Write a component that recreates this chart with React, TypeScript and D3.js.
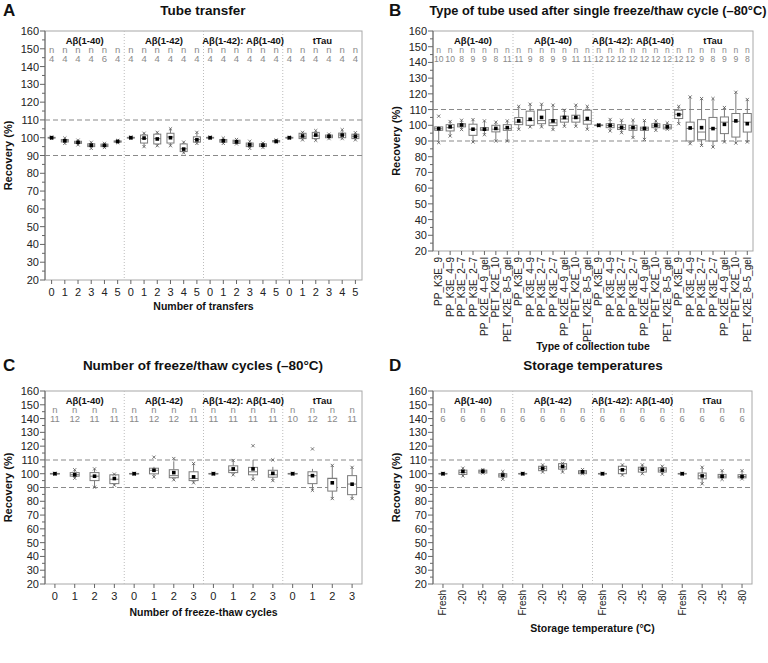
import React from 'react';
import * as d3 from 'd3';

// Each stats row: [min, whiskerLow, q1, median, q3, whiskerHigh, max, mean]
const groupNamesA = ['Aβ(1-40)', 'Aβ(1-42)', 'Aβ(1-42): Aβ(1-40)', 'tTau'];
const groupNamesB = ['Aβ(1-40)', 'Aβ(1-40)', 'Aβ(1-42): Aβ(1-40)', 'tTau'];

const transferCats = ['0', '1', '2', '3', '4', '5'];
const transferCounts = [4, 4, 4, 4, 6, 4, 4, 4, 4, 4, 4, 4, 4, 4, 4, 4, 4, 4, 4, 4, 4, 4, 4, 4];
const transferStats: number[][] = [
  [99.6, 99.6, 99.8, 100, 100.2, 100.4, 100.4, 100],
  [96.8, 96.8, 97.6, 98.3, 99.0, 99.8, 99.8, 98.3],
  [96.0, 96.0, 96.8, 97.4, 98.0, 98.6, 98.6, 97.4],
  [94.0, 94.0, 95.0, 95.8, 96.6, 97.4, 97.4, 95.8],
  [94.5, 94.5, 95.0, 95.7, 96.4, 96.8, 96.8, 95.7],
  [97.2, 97.2, 97.5, 97.8, 98.2, 98.5, 98.5, 97.9],
  [99.6, 99.6, 99.8, 100, 100.2, 100.4, 100.4, 100],
  [95.0, 95.0, 97.0, 99.5, 101.5, 102.5, 102.5, 99.8],
  [95.5, 95.5, 96.5, 99.5, 102.0, 103.0, 103.0, 99.3],
  [95.5, 95.5, 97.0, 100.4, 102.5, 105.0, 105.0, 100.0],
  [91.5, 91.5, 92.2, 93.8, 96.5, 97.5, 97.5, 93.6],
  [96.8, 96.8, 97.5, 99.0, 100.5, 103.0, 103.0, 98.8],
  [99.6, 99.6, 99.8, 100, 100.2, 100.4, 100.4, 100],
  [96.8, 96.8, 97.5, 98.3, 99.0, 99.8, 99.8, 98.3],
  [96.5, 96.5, 96.8, 97.7, 98.6, 99.0, 99.0, 97.7],
  [94.0, 94.0, 95.0, 96.0, 97.0, 98.0, 98.0, 96.0],
  [94.5, 94.5, 95.0, 95.8, 96.6, 97.0, 97.0, 95.8],
  [97.3, 97.3, 97.6, 98.0, 98.4, 98.7, 98.7, 98.0],
  [99.7, 99.7, 99.8, 100, 100.2, 100.3, 100.3, 100],
  [98.8, 98.8, 99.5, 100.5, 102.5, 103.0, 103.0, 101.0],
  [98.5, 98.5, 99.5, 101.0, 103.0, 104.0, 104.0, 101.5],
  [99.5, 99.5, 100.0, 100.8, 101.5, 102.0, 102.0, 100.8],
  [99.5, 99.5, 100.0, 101.5, 102.6, 104.5, 104.5, 101.5],
  [98.8, 98.8, 99.5, 100.8, 102.0, 102.8, 102.8, 100.8],
];

const tubeCats = ['PP_K3E_9', 'PP_K3E_4–9', 'PP_K3E_2–7', 'PP_K3E_2–7', 'PP_K2E_4–9_gel', 'PET_K2E_10', 'PET_K2E_8–5_gel'];
const tubeCounts = [10, 10, 8, 9, 9, 8, 11, 11, 9, 8, 9, 9, 11, 11, 12, 12, 12, 12, 12, 12, 12, 12, 12, 9, 8, 9, 9, 8];
const tubeStats: number[][] = [
  [89.0, 89.0, 96.8, 97.8, 99.0, 99.5, 105.8, 97.8],
  [93.2, 93.2, 96.4, 98.5, 100.4, 102.4, 102.4, 99.0],
  [97.3, 97.3, 99.0, 100.2, 101.0, 103.2, 103.2, 100.2],
  [89.4, 89.4, 93.6, 97.5, 100.7, 103.6, 103.6, 97.5],
  [94.0, 94.0, 96.8, 97.5, 98.5, 102.8, 102.8, 97.5],
  [90.0, 90.0, 95.8, 97.5, 100.0, 102.0, 102.0, 98.0],
  [90.0, 90.0, 96.8, 98.0, 100.4, 102.8, 102.8, 98.5],
  [97.5, 97.5, 100.4, 102.0, 104.9, 112.0, 112.0, 102.8],
  [99.0, 99.0, 100.0, 103.0, 109.0, 113.4, 113.4, 103.8],
  [99.0, 99.0, 101.0, 103.0, 109.6, 113.4, 113.4, 105.0],
  [97.3, 97.3, 99.8, 101.5, 103.6, 112.8, 112.8, 102.8],
  [99.4, 99.4, 102.0, 104.0, 105.8, 109.6, 109.6, 105.0],
  [99.4, 99.4, 102.0, 104.5, 106.4, 112.8, 112.8, 105.0],
  [97.5, 97.5, 100.7, 103.0, 109.6, 112.0, 112.0, 104.3],
  [99.7, 99.7, 99.8, 100, 100.2, 100.3, 100.3, 100],
  [96.4, 96.4, 98.5, 99.8, 101.0, 103.7, 103.7, 100.0],
  [95.3, 95.3, 97.3, 98.5, 100.4, 103.2, 103.2, 98.7],
  [92.2, 92.2, 96.8, 98.3, 100.0, 103.2, 103.2, 98.5],
  [91.0, 91.0, 96.8, 97.8, 98.8, 103.0, 103.0, 98.0],
  [96.8, 96.8, 98.5, 99.6, 101.0, 102.8, 102.8, 100.0],
  [97.5, 97.5, 97.7, 98.8, 100.4, 101.5, 101.5, 99.0],
  [101.0, 101.0, 104.3, 107.0, 109.6, 112.0, 112.0, 106.8],
  [88.3, 88.3, 90.0, 98.0, 102.0, 118.0, 118.0, 98.3],
  [87.2, 87.2, 90.8, 95.7, 103.6, 117.0, 117.0, 98.5],
  [86.2, 86.2, 90.0, 98.0, 105.0, 117.0, 117.0, 97.9],
  [89.4, 89.4, 94.7, 102.0, 105.3, 111.3, 111.3, 100.6],
  [88.7, 88.7, 92.5, 102.5, 107.5, 121.0, 121.0, 102.8],
  [89.4, 89.4, 95.7, 102.0, 107.5, 116.4, 116.4, 101.0],
];

const cycleCats = ['0', '1', '2', '3'];
const cycleCounts = [11, 12, 11, 11, 11, 12, 12, 11, 11, 11, 11, 11, 10, 12, 12, 11];
const cycleStats: number[][] = [
  [99.7, 99.7, 99.8, 100, 100.2, 100.3, 100.3, 100],
  [96.7, 96.7, 98.2, 99.3, 100.8, 102.9, 102.9, 99.2],
  [90.2, 90.2, 95.0, 98.2, 100.8, 103.5, 103.5, 98.2],
  [91.7, 91.7, 92.8, 96.0, 99.2, 99.7, 99.7, 96.5],
  [99.7, 99.7, 99.8, 100, 100.2, 100.3, 100.3, 100],
  [97.7, 97.7, 99.9, 102.5, 104.0, 105.0, 112.0, 102.5],
  [95.6, 95.6, 97.1, 98.6, 102.9, 109.0, 111.0, 100.8],
  [93.4, 93.4, 95.0, 96.5, 101.4, 107.4, 107.4, 97.7],
  [99.7, 99.7, 99.8, 100, 100.2, 100.3, 100.3, 100],
  [99.2, 99.2, 100.8, 102.5, 105.7, 109.6, 109.6, 103.5],
  [96.0, 96.0, 99.2, 101.4, 104.6, 110.0, 120.3, 103.5],
  [95.0, 95.0, 97.5, 99.2, 102.5, 105.0, 110.0, 100.3],
  [99.7, 99.7, 99.8, 100, 100.2, 100.3, 100.3, 100],
  [88.0, 88.0, 92.8, 98.6, 101.4, 103.5, 118.0, 98.6],
  [82.0, 82.0, 87.4, 96.5, 96.7, 106.0, 106.0, 93.4],
  [82.0, 82.0, 84.8, 92.5, 98.6, 104.6, 104.6, 92.4],
];

const storageCats = ['Fresh', '-20', '-25', '-80'];
const storageCounts = [6, 6, 6, 6, 6, 6, 6, 6, 6, 6, 6, 6, 6, 6, 6, 6];
const storageStats: number[][] = [
  [99.7, 99.7, 99.8, 100, 100.2, 100.3, 100.3, 100],
  [98.4, 98.4, 99.5, 101.0, 102.6, 104.0, 104.0, 101.6],
  [100.5, 100.5, 100.5, 101.8, 102.6, 103.0, 103.0, 101.8],
  [96.0, 96.0, 97.6, 99.0, 100.0, 101.6, 101.6, 99.0],
  [99.7, 99.7, 99.8, 100, 100.2, 100.3, 100.3, 100],
  [101.2, 101.2, 102.2, 103.9, 105.4, 106.4, 106.4, 103.9],
  [101.2, 101.2, 103.3, 105.0, 107.3, 107.5, 107.5, 105.2],
  [100.0, 100.0, 100.0, 101.2, 102.2, 103.0, 103.0, 101.4],
  [99.7, 99.7, 99.8, 100, 100.2, 100.3, 100.3, 100],
  [99.0, 99.0, 100.0, 103.0, 105.4, 106.4, 106.4, 102.8],
  [100.0, 100.0, 101.2, 103.3, 104.7, 106.4, 106.4, 103.3],
  [99.7, 99.7, 101.2, 102.6, 104.3, 105.4, 105.4, 102.6],
  [99.7, 99.7, 99.8, 100, 100.2, 100.3, 100.3, 100],
  [92.7, 92.7, 96.3, 98.5, 100.5, 104.7, 104.7, 98.4],
  [95.9, 95.9, 97.0, 98.2, 99.5, 102.2, 102.2, 98.2],
  [96.3, 96.3, 97.0, 98.0, 99.3, 102.2, 102.2, 98.0],
];

const yTicks = d3.range(20, 161, 10);
const yMinor = d3.range(25, 160, 10);
const refLines = [110, 90];

const FONT = '"Liberation Sans", Arial, Helvetica, sans-serif';

interface PanelProps {
  letter: string;
  title: string;
  titleSize: number;
  titleX: number;
  titleY: number;
  letterX: number;
  xTitle: string;
  xTitleY: number;
  left: number;
  top: number;
  width: number;
  height: number;
  groups: string[];
  cats: string[];
  counts: number[];
  countSize: number;
  stats: number[][];
  rotate: boolean;
  boxW: number;
}

function Panel(p: PanelProps) {
  const nG = p.groups.length;
  const nC = p.cats.length;
  const labels: string[] = [];
  for (let g = 0; g < nG; g++) for (let c = 0; c < nC; c++) labels.push(p.cats[c]);
  const idx = labels.map((_, i) => String(i));
  const x = d3.scaleBand<string>().domain(idx).range([p.left, p.left + p.width]);
  const y = d3.scaleLinear().domain([20, 160]).range([p.top + p.height, p.top]);
  const gx = d3.scaleLinear().domain([0, nG]).range([p.left, p.left + p.width]);
  const bottom = p.top + p.height;
  const right = p.left + p.width;
  const hw = p.boxW / 2;
  const xs = 1.6;
  const boxCol = '#7a7a7a';
  return (
    <g fontFamily={FONT}>
      <text x={p.letterX} y={p.titleY + 1} fontSize={17} fontWeight="bold" fill="#111">{p.letter}</text>
      <text x={p.titleX} y={p.titleY} fontSize={p.titleSize} fontWeight="bold" textAnchor="middle" fill="#111">{p.title}</text>
      <rect x={p.left} y={p.top} width={p.width} height={p.height} fill="none" stroke="#a8a8a8" strokeWidth={1} />
      <line x1={p.left} x2={p.left} y1={p.top} y2={bottom} stroke="#666" strokeWidth={1} />
      {d3.range(1, nG).map((g) => (
        <line key={'sep' + g} x1={gx(g)} x2={gx(g)} y1={p.top} y2={bottom} stroke="#bdbdbd" strokeWidth={1} strokeDasharray="1,2" />
      ))}
      {refLines.map((v) => (
        <line key={'ref' + v} x1={p.left} x2={right} y1={y(v)} y2={y(v)} stroke="#8a8a8a" strokeWidth={1.1} strokeDasharray="5,3" />
      ))}
      {yTicks.map((t) => (
        <g key={'yt' + t}>
          <line x1={p.left - 5} x2={p.left} y1={y(t)} y2={y(t)} stroke="#666" />
          <text x={p.left - 6} y={y(t) + 4} fontSize={11} textAnchor="end" fill="#222">{t}</text>
        </g>
      ))}
      {yMinor.map((t) => (
        <line key={'ym' + t} x1={p.left - 3} x2={p.left} y1={y(t)} y2={y(t)} stroke="#666" />
      ))}
      <text transform={`translate(${p.left - 33},${(p.top + bottom) / 2}) rotate(-90)`} fontSize={11} fontWeight="bold" textAnchor="middle" fill="#111">Recovery (%)</text>
      {p.groups.map((g, i) => (
        <text key={'g' + i} x={(gx(i) + gx(i + 1)) / 2} y={p.top + 13} fontSize={9.5} fontWeight="bold" textAnchor="middle" fill="#111">{g}</text>
      ))}
      {p.counts.map((n, i) => {
        const cx = (x(String(i)) as number) + x.bandwidth() / 2;
        return (
          <g key={'n' + i}>
            <text x={cx} y={p.top + 22} fontSize={p.countSize} textAnchor="middle" fill="#8a8a8a">n</text>
            <text x={cx} y={p.top + 31} fontSize={p.countSize} textAnchor="middle" fill="#8a8a8a">{n}</text>
          </g>
        );
      })}
      {p.stats.map((s, i) => {
        const cx = (x(String(i)) as number) + x.bandwidth() / 2;
        const [mn, wl, q1, md, q3, wh, mx, mean] = s;
        return (
          <g key={'b' + i}>
            <line x1={cx} x2={cx} y1={y(q1)} y2={y(wl)} stroke={boxCol} />
            <line x1={cx} x2={cx} y1={y(q3)} y2={y(wh)} stroke={boxCol} />
            <rect x={cx - hw} y={y(q3)} width={p.boxW} height={Math.max(0.5, y(q1) - y(q3))} fill="white" stroke={boxCol} strokeWidth={1} />
            <line x1={cx - hw} x2={cx + hw} y1={y(md)} y2={y(md)} stroke={boxCol} />
            {[mn, mx].map((v, k) => (
              <g key={k} stroke="#555" strokeWidth={0.8}>
                <line x1={cx - xs} x2={cx + xs} y1={y(v) - xs} y2={y(v) + xs} />
                <line x1={cx - xs} x2={cx + xs} y1={y(v) + xs} y2={y(v) - xs} />
              </g>
            ))}
            <rect x={cx - 1.8} y={y(mean) - 1.8} width={3.6} height={3.6} fill="#000" />
          </g>
        );
      })}
      {labels.map((l, i) => {
        const cx = (x(String(i)) as number) + x.bandwidth() / 2;
        return (
          <g key={'xl' + i}>
            <line x1={cx} x2={cx} y1={bottom} y2={bottom + 4} stroke="#666" />
            {p.rotate ? (
              <text transform={`translate(${cx + 3.5},${bottom + 6}) rotate(-90)`} fontSize={10} textAnchor="end" fill="#222">{l}</text>
            ) : (
              <text x={cx} y={bottom + 16} fontSize={11} textAnchor="middle" fill="#222">{l}</text>
            )}
          </g>
        );
      })}
      <text x={(p.left + right) / 2} y={p.xTitleY} fontSize={10.5} fontWeight="bold" textAnchor="middle" fill="#111">{p.xTitle}</text>
    </g>
  );
}

export default function App() {
  return (
    <svg width={768} height={663} style={{ position: 'absolute', left: 0, top: 0, background: 'white' }}>
      <rect width={768} height={663} fill="white" />
      <Panel letter="A" letterX={3} title="Tube transfer" titleSize={13.5} titleX={203} titleY={15}
        xTitle="Number of transfers" xTitleY={310} left={45} top={31} width={317} height={249}
        groups={groupNamesA} cats={transferCats} counts={transferCounts} countSize={9.5} stats={transferStats} rotate={false} boxW={7} />
      <Panel letter="B" letterX={389} title="Type of tube used after single freeze/thaw cycle (–80°C)" titleSize={12.8} titleX={598} titleY={15}
        xTitle="Type of collection tube" xTitleY={350} left={433} top={31} width={320} height={220}
        groups={groupNamesB} cats={tubeCats} counts={tubeCounts} countSize={8.6} stats={tubeStats} rotate={true} boxW={8} />
      <Panel letter="C" letterX={3} title="Number of freeze/thaw cycles (–80°C)" titleSize={13.5} titleX={203} titleY={370}
        xTitle="Number of freeze-thaw cycles" xTitleY={616} left={45} top={391} width={317} height={193}
        groups={groupNamesA} cats={cycleCats} counts={cycleCounts} countSize={9.5} stats={cycleStats} rotate={false} boxW={9} />
      <Panel letter="D" letterX={389} title="Storage temperatures" titleSize={13.5} titleX={593} titleY={370}
        xTitle="Storage temperature (°C)" xTitleY={632} left={433} top={391} width={319} height={193}
        groups={groupNamesA} cats={storageCats} counts={storageCounts} countSize={9.5} stats={storageStats} rotate={true} boxW={8} />
    </svg>
  );
}
